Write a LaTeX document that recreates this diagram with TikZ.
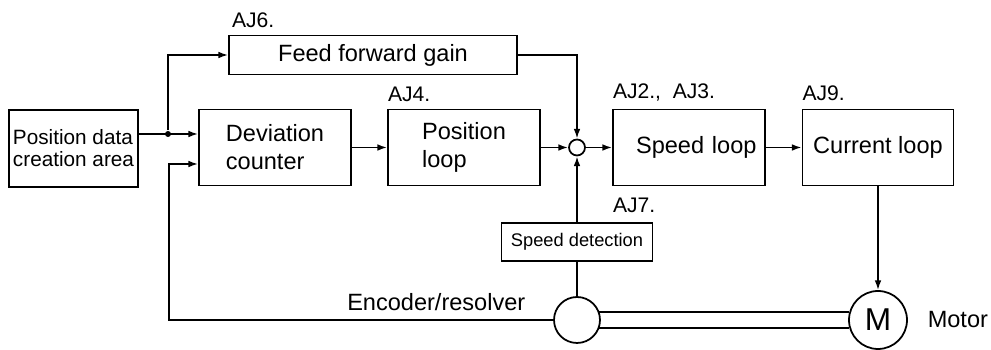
\documentclass[tikz,border=0pt]{standalone}
\usepackage{fontspec}
\setmainfont{Liberation Sans}
\usepackage{tikz}
\usetikzlibrary{positioning,arrows.meta}

\begin{document}
\begin{tikzpicture}[
  x=0.02cm, y=-0.02cm,
  >={Latex[length=5.5pt,width=3.8pt]},
  every path/.style={line width=1pt},
  every node/.style={font=\fontsize{13.4}{16}\selectfont},
  box/.style={draw, line width=1pt, inner sep=2pt, align=left},
  tag/.style={font=\fontsize{12}{14}\selectfont, inner sep=0pt},
  dot/.style={circle, fill, inner sep=0pt, minimum size=0.12cm},
  wheel/.style={circle, draw, line width=1pt, inner sep=0pt}]
  \useasboundingbox (0,0) rectangle (991,350);

  % blocks
  \node[box, minimum width=2.58cm, minimum height=1.54cm,
        font=\fontsize{11.8}{12.6}\selectfont] (pos) at (73.5,148.5) {Position data\\creation area};
  \node[box, minimum width=5.76cm, minimum height=0.78cm, align=center] (ff) at (373,55) {Feed forward gain};
  \node[box, minimum width=3.04cm, minimum height=1.52cm] (dev) at (275,147.5) {Deviation\\counter};
  \node[box, minimum width=3.04cm, minimum height=1.52cm] (pl)  at (464,147.5) {Position\\loop};
  \node[box, minimum width=3.04cm, minimum height=1.52cm,
        text width=2.7cm, align=right] (sl) at (689,147.5) {Speed loop};
  \node[box, minimum width=3.02cm, minimum height=1.52cm] (cl)  at (878,147.5) {Current loop};
  \node[box, minimum width=3.02cm, minimum height=0.76cm, align=center,
        font=\fontsize{10.4}{12}\selectfont] (sd) at (577,242) {Speed detection};

  \node[wheel, minimum size=0.32cm] (sum) at (577,147.5) {};
  \node[wheel, minimum size=0.92cm] (enc) at (577,320) {};
  \node[wheel, minimum size=1.16cm, font=\fontsize{18}{20}\selectfont] (mot) at (878,320) {M};
  \node[dot] (jn) at (168,134) {};
  \coordinate (fb) at (169,164);

  % parameter tags
  \node[tag, above right=0.12cm and 0.06cm of ff.north west] (aj6) {AJ6.};
  \node[tag, above right=0.12cm and 0cm of pl.north west] (aj4) {AJ4.};
  \node[tag, above right=0.14cm and 0cm of sl.north west] (aj23) {AJ2.,\ \ AJ3.};
  \node[tag, below right=0.22cm and 0cm of sl.south west] (aj7) {AJ7.};
  \node[tag, above right=0.14cm and 0cm of cl.north west] (aj9) {AJ9.};
  \node[inner sep=0pt, above left=0.16cm and 0.54cm of enc.west] (enclbl) {Encoder/resolver};
  \node[inner sep=0pt, right=0.38cm of mot.east] (motlbl) {Motor};

  % signal paths
  \draw[->] (pos.east |- jn) -- (dev.west |- jn);
  \draw[->] (jn) |- (ff.west);
  \draw[->] (ff.east) -| (sum.north);
  \draw[->] (dev.east) -- (pl.west);
  \draw[->] (pl.east) -- (sum.west);
  \draw[->] (sum.east) -- (sl.west);
  \draw[->] (sl.east) -- (cl.west);
  \draw[->] (cl.south) -- (mot.north);
  \draw (enc.north) -- (sd.south);
  \draw[->] (sd.north) -- (sum.south);
  \draw[->] (enc.west) -| (fb) -- (dev.west |- fb);

  % shaft
  \draw (enc.20) -- (enc.20 -| mot.164);
  \draw (enc.-20) -- (enc.-20 -| mot.-164);
\end{tikzpicture}
\end{document}
